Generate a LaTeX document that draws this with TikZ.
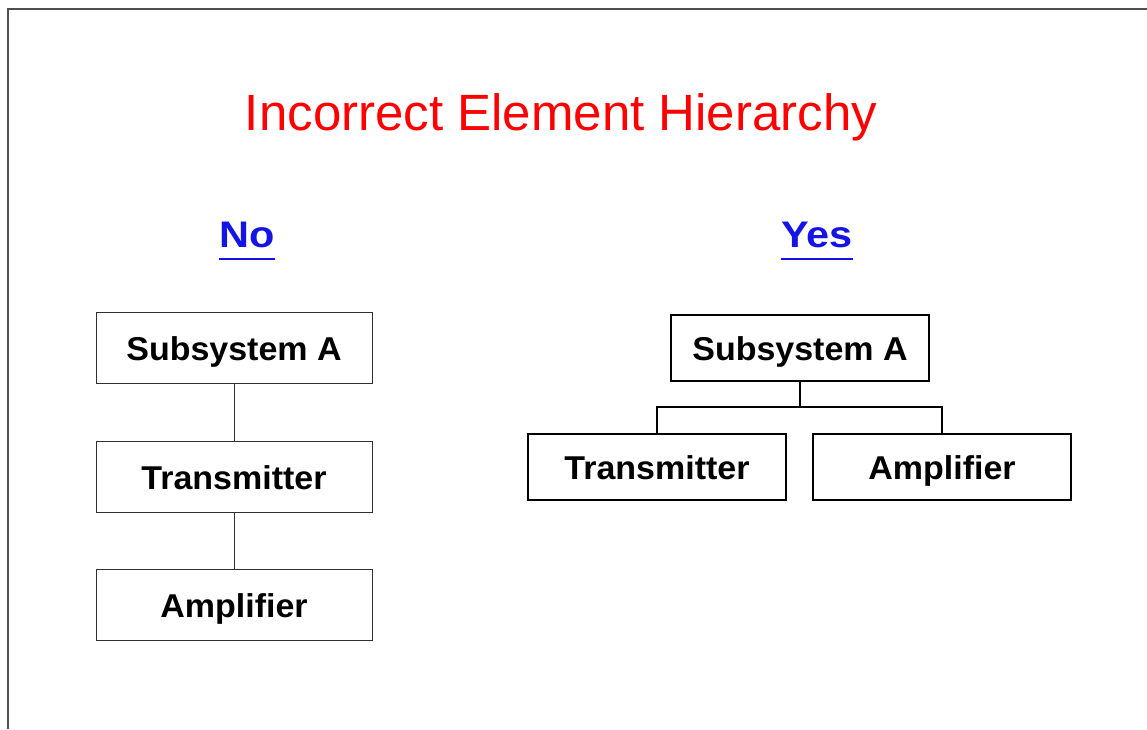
\documentclass[tikz,border=0pt]{standalone}
\usepackage{fontspec}
\setmainfont{Liberation Sans}
\definecolor{frame}{HTML}{505050}
\definecolor{titlered}{HTML}{FF0000}
\definecolor{headblue}{HTML}{1414E6}
\definecolor{thinbox}{HTML}{303030}
\begin{document}
\begin{tikzpicture}[x=1pt,y=-1pt,
  boxtext/.style={font=\fontsize{33}{36}\selectfont\bfseries, text height=27pt, text depth=3pt},
  leftbox/.style={draw=thinbox, line width=1pt, minimum width=276pt, minimum height=71pt, inner sep=0pt, boxtext},
  rightbox/.style={draw=black, line width=2pt, minimum width=258pt, minimum height=66pt, inner sep=0pt, boxtext},
  heading/.style={text=headblue, inner sep=0pt, anchor=base, font=\fontsize{37}{40}\selectfont\bfseries},
  uline/.style={draw=headblue, line width=2pt},
  thinlink/.style={draw=thinbox, line width=1pt},
  thicklink/.style={draw=black, line width=2pt}]
\useasboundingbox (0,0) rectangle (1147,729);
% frame
\draw[frame, line width=2pt] (8,729) -- (8,9) -- (1147,9);
% title
\node[anchor=base, inner sep=0pt, text=titlered, font=\fontsize{51}{56}\selectfont] (title) at (561,130) {Incorrect Element Hierarchy};
% headings
\node[heading] (no) at (247,247) {\scalebox{1.12}[1]{No}};
\node[heading] (yes) at (817,247) {\scalebox{1.12}[1]{Yes}};
\draw[uline] ([yshift=-11pt]no.south west) -- ([yshift=-11pt]no.south east);
\draw[uline] ([yshift=-11pt]yes.south west) -- ([yshift=-11pt]yes.south east);
% left hierarchy
\node[leftbox] (l1) at (234,348) {\scalebox{1.03}[1]{Subsystem A}};
\node[leftbox] (l2) at (234,477) {\scalebox{1.03}[1]{Transmitter}};
\node[leftbox] (l3) at (234,605) {\scalebox{1.03}[1]{Amplifier}};
\draw[thinlink] (l1) -- (l2);
\draw[thinlink] (l2) -- (l3);
% right hierarchy
\node[rightbox] (r1) at (800,348) {\scalebox{1.03}[1]{Subsystem A}};
\node[rightbox] (r2) at (657,467) {\scalebox{1.03}[1]{Transmitter}};
\node[rightbox] (r3) at (942,467) {\scalebox{1.03}[1]{Amplifier}};
\coordinate (bus) at (800,407);
\draw[thicklink] (r1) -- (bus);
\draw[thicklink] (r2.north) |- (bus) -| (r3.north);
\end{tikzpicture}
\end{document}
